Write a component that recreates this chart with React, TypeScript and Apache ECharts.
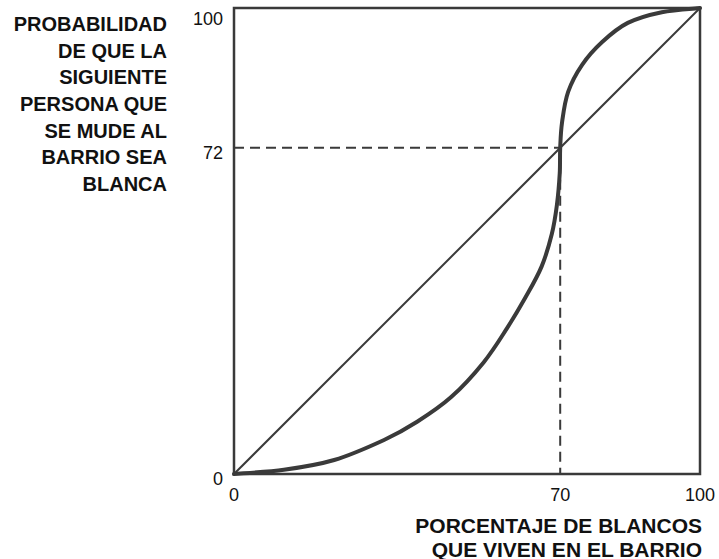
import React, { useEffect, useRef } from "react";
import * as echarts from "echarts";

// Visual coordinates (0..100 on both axes)
const curveX = [0, 10.7, 21.5, 32.2, 39.3, 46.6, 53.6, 58.6, 62.5, 66.0, 68.2, 69.3, 69.9, 70, 70.4, 71.7, 74.7, 79, 84.5, 91.8, 100];
const curveY = [0, 0.9, 3.0, 7.3, 11.2, 16.5, 24.0, 31.3, 37.8, 44.5, 51.5, 57.8, 64.5, 70, 75.5, 82, 87.8, 92.7, 96.8, 99.1, 100];
const diagonal = [[0, 0], [100, 100]];
const markX = 70;
const markY = 70; // drawn position of the point labelled "72"
const xTickValues = [0, 70, 100];
const xTickLabels = ["0", "70", "100"];
const yTickValues = [0, 70, 100];
const yTickLabels = ["0", "72", "100"];
const xTitle = "PORCENTAJE DE BLANCOS\nQUE VIVEN EN EL BARRIO";
const yTitle = "PROBABILIDAD\nDE QUE LA\nSIGUIENTE\nPERSONA QUE\nSE MUDE AL\nBARRIO SEA\nBLANCA";

const INK = "#3a3a3a";
const FONT = "'Liberation Sans', Arial, Helvetica, sans-serif";

export default function App() {
  const ref = useRef<HTMLDivElement>(null);
  useEffect(() => {
    if (!ref.current) return;
    const chart = echarts.init(ref.current, null, { renderer: "svg" });
    const curve = curveX.map((x, i) => [x, curveY[i]]);

    // Smooth curve through the data points, positioned by the axes (api.coord)
    const renderCurve = (params: any, api: any) => {
      if (params.dataIndex !== 0) return null;
      const pts = curve.map((p) => api.coord(p));
      const n = pts.length;
      let d = `M${pts[0][0]},${pts[0][1]}`;
      for (let i = 0; i < n - 1; i++) {
        const p0 = pts[Math.max(0, i - 1)];
        const p1 = pts[i];
        const p2 = pts[i + 1];
        const p3 = pts[Math.min(n - 1, i + 2)];
        const c1x = p1[0] + (p2[0] - p0[0]) / 6;
        const c1y = p1[1] + (p2[1] - p0[1]) / 6;
        const c2x = p2[0] - (p3[0] - p1[0]) / 6;
        const c2y = p2[1] - (p3[1] - p1[1]) / 6;
        d += ` C${c1x},${c1y} ${c2x},${c2y} ${p2[0]},${p2[1]}`;
      }
      return {
        type: "path",
        shape: { pathData: d },
        style: { stroke: INK, lineWidth: 4, fill: "none", lineCap: "round", lineJoin: "round" },
      };
    };

    chart.setOption({
      animation: false,
      backgroundColor: "#ffffff",
      textStyle: { fontFamily: FONT },
      grid: {
        left: 234,
        top: 8,
        width: 466,
        height: 466,
        containLabel: false,
        outerBoundsMode: "none",
        show: true,
        borderColor: INK,
        borderWidth: 2.5,
        backgroundColor: "transparent",
      },
      graphic: [
        {
          type: "text",
          x: 167,
          y: 10.5,
          style: {
            text: yTitle,
            fill: "#111",
            fontSize: 20,
            fontWeight: "bold",
            fontFamily: FONT,
            align: "right",
            verticalAlign: "top",
            lineHeight: 26.7,
          },
        },
        {
          type: "text",
          x: 702,
          y: 513,
          style: {
            text: xTitle,
            fill: "#111",
            fontSize: 21,
            fontWeight: "bold",
            fontFamily: FONT,
            align: "right",
            verticalAlign: "top",
            lineHeight: 24,
          },
        },
      ],
      xAxis: {
        type: "value",
        min: 0,
        max: 100,
        interval: 10,
        axisLine: { show: false },
        axisTick: { show: false },
        splitLine: { show: false },
        axisLabel: {
          margin: 12,
          color: "#111",
          fontSize: 18,
          fontFamily: FONT,
          formatter: (v: number) => {
            const i = xTickValues.indexOf(v);
            return i >= 0 ? xTickLabels[i] : "";
          },
        },
      },
      yAxis: {
        type: "value",
        min: 0,
        max: 100,
        interval: 10,
        axisLine: { show: false },
        axisTick: { show: false },
        splitLine: { show: false },
        axisLabel: {
          margin: 11,
          color: "#111",
          fontSize: 18,
          fontFamily: FONT,
          formatter: (v: number) => {
            const i = yTickValues.indexOf(v);
            if (i < 0) return "";
            return v === 100 ? `{hi|${yTickLabels[i]}}` : `{n|${yTickLabels[i]}}`;
          },
          rich: {
            hi: { fontSize: 18, color: "#111", fontFamily: FONT, padding: [22, 0, 0, 0] },
            n: { fontSize: 18, color: "#111", fontFamily: FONT, padding: [10, 0, 0, 0] },
          },
        },
      },
      series: [
        {
          type: "line",
          data: diagonal,
          symbol: "none",
          lineStyle: { color: INK, width: 2 },
          z: 2,
        },
        {
          type: "line",
          data: [[0, markY], [markX, markY]],
          symbol: "none",
          lineStyle: { color: INK, width: 2, type: [10, 6] },
          z: 2,
        },
        {
          type: "line",
          data: [[markX, markY], [markX, 0]],
          symbol: "none",
          lineStyle: { color: INK, width: 2, type: [10, 6] },
          z: 2,
        },
        {
          type: "custom",
          data: [curve[0]],
          clip: false,
          renderItem: renderCurve,
          z: 3,
        },
      ],
    });
    return () => chart.dispose();
  }, []);
  return (
    <div
      ref={ref}
      style={{ position: "fixed", left: 0, top: 0, width: 719, height: 559, background: "#fff" }}
    />
  );
}
